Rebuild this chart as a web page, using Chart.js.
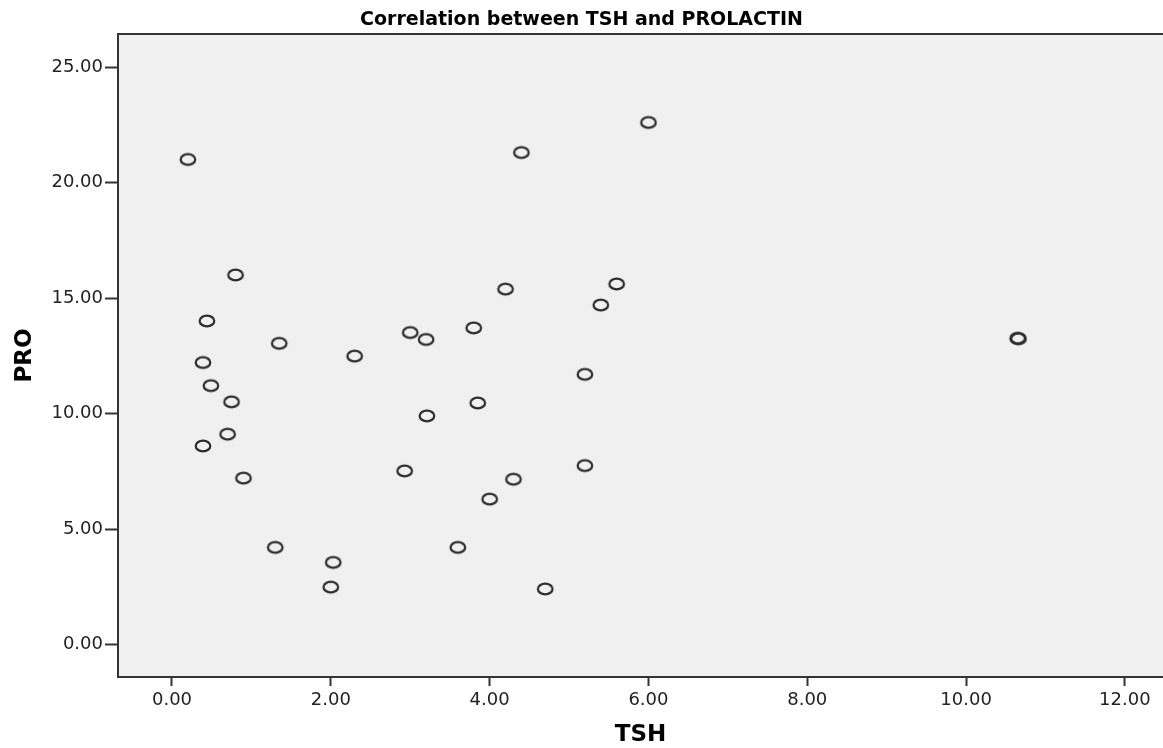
<!DOCTYPE html>
<html>
<head>
<meta charset="utf-8">
<script src="https://cdn.jsdelivr.net/npm/chart.js@4.4.1/dist/chart.umd.min.js"></script>
<style>
  html, body { margin: 0; padding: 0; background: #fff; }
  #wrap { width: 1163px; height: 748px; }
</style>
</head>
<body>
<div id="wrap"><canvas id="myChart" width="1163" height="748"></canvas></div>
<script>
// TSH (x) and PROLACTIN (y)
var tsh = [0.20, 0.80, 0.44, 1.35, 3.00, 3.20, 0.39, 2.30, 0.49, 0.75, 3.21,
           0.70, 0.39, 2.93, 0.90, 1.30, 2.03, 2.00, 3.60, 6.00, 4.40, 4.20,
           5.60, 5.40, 3.80, 5.20, 3.85, 5.20, 4.30, 4.00, 4.70, 10.65, 10.66];
var pro = [21.00, 16.00, 14.01, 13.04, 13.51, 13.21, 12.21, 12.49, 11.21, 10.51, 9.90,
           9.11, 8.60, 7.52, 7.21, 4.21, 3.56, 2.49, 4.21, 22.60, 21.30, 15.39,
           15.61, 14.70, 13.71, 11.70, 10.46, 7.75, 7.16, 6.30, 2.41, 13.26, 13.24];
var xTicks = [0, 2, 4, 6, 8, 10, 12];
var yTicks = [0, 5, 10, 15, 20, 25];

var points = tsh.map(function (x, i) { return { x: x, y: pro[i] }; });

// hollow, slightly wide marker like the SPSS output
var marker = document.createElement('canvas');
marker.width = 20;
marker.height = 16;
var mctx = marker.getContext('2d');
mctx.strokeStyle = '#2b2b2b';
mctx.lineWidth = 2.2;
mctx.beginPath();
mctx.ellipse(10, 8, 7.3, 5.3, 0, 0, Math.PI * 2);
mctx.stroke();

var plotFrame = {
  id: 'plotFrame',
  beforeDraw: function (chart) {
    var a = chart.chartArea, c = chart.ctx;
    c.save();
    c.fillStyle = '#f0f0f0';
    c.fillRect(a.left, a.top, a.right - a.left, a.bottom - a.top);
    c.restore();
  },
  afterDraw: function (chart) {
    var a = chart.chartArea, c = chart.ctx;
    c.save();
    c.strokeStyle = '#333';
    c.lineWidth = 2;
    c.beginPath();
    c.moveTo(a.left, a.top);
    c.lineTo(a.right, a.top);
    c.stroke();
    c.restore();
  }
};

var tickFont = { family: 'DejaVu Sans', size: 18 };
var titleFont = { family: 'DejaVu Sans', size: 23, weight: 'bold', lineHeight: 1 };

const ctx = document.getElementById('myChart');
const myChart = new Chart(ctx, {
  type: 'scatter',
  data: {
    datasets: [{
      data: points,
      pointStyle: marker,
      pointRadius: 8,
      pointHoverRadius: 8
    }]
  },
  options: {
    responsive: false,
    animation: false,
    layout: { padding: 0, autoPadding: false },
    plugins: {
      legend: { display: false },
      tooltip: { enabled: false },
      title: {
        display: true,
        text: 'Correlation between TSH and PROLACTIN',
        color: '#000',
        font: { family: 'DejaVu Sans', size: 19, weight: 'bold', lineHeight: 1 },
        padding: { top: 11, bottom: 4 }
      }
    },
    scales: {
      x: {
        type: 'linear',
        min: -0.68,
        max: 12.48,
        afterBuildTicks: function (s) { s.ticks = xTicks.map(function (v) { return { value: v }; }); },
        afterFit: function (s) { s.height = 71; s.paddingLeft = 0; s.paddingRight = 0; },
        grid: { drawOnChartArea: false, drawTicks: true, tickLength: 9, tickWidth: 2, tickColor: '#333' },
        border: { display: true, color: '#333', width: 2 },
        ticks: {
          color: '#222',
          font: tickFont,
          padding: 4,
          maxRotation: 0,
          callback: function (v) { return v.toFixed(2); }
        },
        title: {
          display: true,
          text: 'TSH',
          color: '#000',
          font: titleFont,
          padding: { top: 0, bottom: 1 }
        }
      },
      y: {
        type: 'linear',
        min: -1.4,
        max: 26.43,
        afterBuildTicks: function (s) { s.ticks = yTicks.map(function (v) { return { value: v }; }); },
        afterFit: function (s) { s.width = 118; },
        grid: { drawOnChartArea: false, drawTicks: true, tickLength: 13, tickWidth: 2, tickColor: '#333' },
        border: { display: true, color: '#333', width: 2 },
        ticks: {
          color: '#222',
          font: tickFont,
          padding: 2,
          callback: function (v) { return v.toFixed(2); }
        },
        title: {
          display: true,
          text: 'PRO',
          color: '#000',
          font: titleFont,
          padding: { top: 14, bottom: 0 }
        }
      }
    }
  },
  plugins: [plotFrame]
});

myChart.update();
</script>
</body>
</html>
